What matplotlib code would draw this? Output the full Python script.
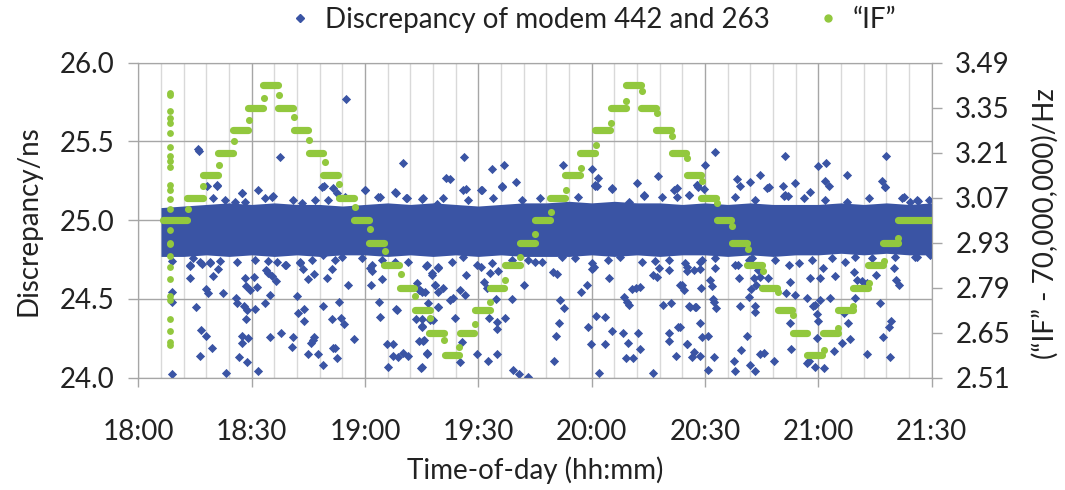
import matplotlib
matplotlib.use("Agg")
import matplotlib.pyplot as plt
from matplotlib.lines import Line2D

plt.rcParams["font.family"] = ["Lato", "DejaVu Sans"]

# Colores del gráfico original
AZUL = "#3A54A4"
VERDE = "#92C83E"
GRIS = "#A6A6A6"
GRIS_CLARO = "#D9D9D9"
TEXTO = "#222222"

# Eje x: minutos desde las 18:00
horas_ticks = [0, 30, 60, 90, 120, 150, 180, 210]
horas_etiquetas = ["18:00", "18:30", "19:00", "19:30", "20:00", "20:30", "21:00", "21:30"]
ns_ticks = [24.0, 24.5, 25.0, 25.5, 26.0]
if_ticks = [2.51, 2.65, 2.79, 2.93, 3.07, 3.21, 3.35, 3.49]

# Banda densa de la discrepancia (envolvente leída cada 6 min)
banda_min = [6, 12, 18, 24, 30, 36, 42, 48, 54, 60, 66, 72, 78, 84, 90, 96, 102,
             108, 114, 120, 126, 132, 138, 144, 150, 156, 162, 168, 174, 180,
             186, 192, 198, 204, 210]
banda_sup = [25.08, 25.09, 25.10, 25.11, 25.10, 25.11, 25.10, 25.10, 25.09, 25.10,
             25.11, 25.10, 25.11, 25.10, 25.09, 25.10, 25.11, 25.11, 25.12, 25.11,
             25.12, 25.11, 25.11, 25.10, 25.11, 25.10, 25.11, 25.10, 25.10, 25.10,
             25.11, 25.10, 25.11, 25.10, 25.11]
banda_inf = [24.77, 24.77, 24.78, 24.77, 24.78, 24.77, 24.78, 24.77, 24.78, 24.78,
             24.77, 24.78, 24.77, 24.78, 24.77, 24.78, 24.77, 24.77, 24.77, 24.78,
             24.77, 24.78, 24.77, 24.78, 24.78, 24.77, 24.78, 24.77, 24.78, 24.78,
             24.79, 24.78, 24.79, 24.78, 24.78]

# Puntos (minuto, ns) por encima de la banda
sobre_banda = [
    (15.90, 25.450), (16.07, 25.439), (20.93, 25.219), (18.10, 25.217), (27.55, 25.171),
    (31.78, 25.192), (35.75, 25.154), (37.52, 25.399), (54.91, 25.767), (49.17, 25.219),
    (51.47, 25.202), (60.12, 25.192), (63.56, 25.149), (68.15, 25.175), (70.00, 25.365),
    (70.88, 25.139), (75.21, 25.135), (79.00, 25.103),
    (86.23, 25.399), (81.38, 25.270), (82.52, 25.262), (86.67, 25.196), (90.64, 25.192),
    (93.56, 25.323), (96.91, 25.350), (96.38, 25.219), (99.91, 25.240), (112.36, 25.350),
    (120.21, 25.325), (120.92, 25.219), (121.36, 25.217), (125.33, 25.202), (121.80, 25.270),
    (131.95, 25.234), (137.51, 25.283), (133.98, 25.156), (142.54, 25.202), (145.63, 25.160),
    (147.84, 25.223),
    (152.69, 25.435), (171.22, 25.410), (197.97, 25.410), (150.04, 25.350), (179.87, 25.344),
    (181.99, 25.361), (187.55, 25.287), (158.42, 25.262), (159.31, 25.219), (161.95, 25.240),
    (164.60, 25.287), (166.81, 25.213), (170.52, 25.219), (173.87, 25.234), (181.64, 25.249),
    (182.70, 25.219), (196.82, 25.249), (197.70, 25.213), (147.83, 25.223), (148.27, 25.213),
    (170.78, 25.156), (171.93, 25.156), (177.67, 25.181), (202.56, 25.149), (204.14, 25.118),
    (206.26, 25.124),
]

# Puntos (minuto, ns) por debajo de la banda
bajo_banda = [
    (8.83, 24.741), (13.69, 24.709), (16.34, 24.732), (18.98, 24.726), (21.19, 24.690),
    (19.69, 24.646), (13.69, 24.631), (17.84, 24.561), (18.54, 24.540), (22.52, 24.540),
    (25.78, 24.504), (26.05, 24.472), (28.25, 24.631), (28.52, 24.582), (29.58, 24.557),
    (30.64, 24.641), (31.34, 24.574), (33.81, 24.684), (34.43, 24.667), (35.31, 24.646),
    (36.46, 24.614), (34.87, 24.525), (33.46, 24.472), (30.90, 24.434), (28.69, 24.430),
    (28.52, 24.371), (28.08, 24.455), (39.02, 24.716), (42.82, 24.726), (43.52, 24.690),
    (46.61, 24.658), (45.02, 24.625), (51.20, 24.690), (49.88, 24.631), (41.93, 24.519),
    (43.96, 24.434), (42.37, 24.409), (43.87, 24.362), (48.82, 24.457), (53.23, 24.479),
    (51.20, 24.371), (53.67, 24.381), (54.55, 24.341), (55.44, 24.589), (57.20, 24.244),
    (61.35, 24.694), (61.79, 24.680), (61.62, 24.589), (64.62, 24.625), (63.65, 24.479),
    (64.00, 24.387), (68.15, 24.434), (68.41, 24.430), (65.94, 24.212), (67.35, 24.212),
    (67.53, 24.138), (68.85, 24.134), (70.00, 24.159), (71.50, 24.138), (66.21, 24.066),
    (74.85, 24.059), (74.24, 24.557), (75.12, 24.546), (73.71, 24.599), (76.18, 24.709),
    (77.68, 24.667), (78.56, 24.589), (79.27, 24.546), (79.45, 24.451), (73.44, 24.371),
    (75.03, 24.328), (77.24, 24.366), (74.32, 24.235), (75.47, 24.235), (76.53, 24.150),
    (15.19, 24.451), (16.51, 24.303), (17.93, 24.267), (19.43, 24.191), (16.34, 24.138),
    (26.58, 24.134), (28.69, 24.102), (31.78, 24.045), (23.13, 24.028), (8.83, 24.021),
    (27.37, 24.267), (27.46, 24.218), (29.14, 24.250), (34.87, 24.260), (37.78, 24.282),
    (41.05, 24.260), (40.61, 24.197), (44.85, 24.150), (47.67, 24.150), (46.17, 24.239),
    (46.52, 24.256), (45.64, 24.218), (51.47, 24.191), (52.08, 24.191), (52.52, 24.123),
    (48.99, 24.081), (8.83, 24.546), (8.83, 24.483),
    (74.58, 24.557), (75.90, 24.546), (77.67, 24.652), (79.43, 24.694), (78.55, 24.589),
    (80.76, 24.567), (76.79, 24.472), (79.43, 24.451), (75.02, 24.371), (78.11, 24.366),
    (83.41, 24.504), (82.52, 24.493), (85.17, 24.557), (86.50, 24.525), (86.76, 24.652),
    (83.85, 24.377), (75.02, 24.324), (75.64, 24.239), (76.52, 24.155), (75.02, 24.070),
    (85.61, 24.229), (85.17, 24.102), (89.76, 24.150), (92.67, 24.108), (95.06, 24.150),
    (92.94, 24.377), (94.88, 24.356), (95.06, 24.307), (97.09, 24.377), (91.61, 24.610),
    (93.11, 24.663), (95.32, 24.677), (90.64, 24.705), (92.23, 24.567), (94.70, 24.498),
    (98.85, 24.498), (102.12, 24.589), (105.03, 24.737), (99.29, 24.049), (100.88, 24.023),
    (103.26, 24.002), (110.06, 24.108), (111.65, 24.493), (112.71, 24.440), (111.47, 24.345),
    (110.59, 24.265), (109.89, 24.673), (110.77, 24.658), (117.21, 24.546), (118.71, 24.589),
    (120.03, 24.690), (120.65, 24.705), (119.15, 24.324), (121.18, 24.394), (123.56, 24.387),
    (125.33, 24.296), (119.86, 24.212), (123.56, 24.214), (121.89, 24.028), (124.71, 24.635),
    (128.60, 24.514), (129.30, 24.483), (129.92, 24.462), (130.63, 24.561), (131.77, 24.567),
    (132.83, 24.578), (128.42, 24.286), (132.39, 24.282), (129.74, 24.218), (129.04, 24.123),
    (131.07, 24.123), (132.83, 24.182), (136.10, 24.032), (136.36, 24.652), (137.42, 24.641),
    (137.95, 24.694), (140.34, 24.684), (139.01, 24.462), (140.95, 24.472), (140.34, 24.282),
    (140.34, 24.235), (142.72, 24.324), (143.25, 24.324), (142.36, 24.140), (145.19, 24.212),
    (146.07, 24.451), (147.66, 24.451), (144.31, 24.557), (143.42, 24.589), (145.19, 24.677),
    (148.54, 24.688), (147.13, 24.165), (148.54, 24.138), (148.72, 24.737),
    (143.86, 24.589), (147.13, 24.684), (145.19, 24.705), (151.19, 24.620), (151.80, 24.582),
    (152.07, 24.498), (152.95, 24.440), (148.98, 24.567), (145.89, 24.457), (147.39, 24.451),
    (148.72, 24.345), (149.16, 24.260), (150.66, 24.265), (145.36, 24.214), (146.51, 24.134),
    (152.25, 24.129), (150.92, 24.049), (157.54, 24.108), (157.81, 24.045), (159.57, 24.176),
    (161.07, 24.267), (161.95, 24.081), (163.28, 24.045), (164.60, 24.150), (165.49, 24.155),
    (168.13, 24.108), (172.72, 24.180), (176.96, 24.091), (177.40, 24.108), (179.61, 24.250),
    (179.17, 24.070), (181.37, 24.059), (184.20, 24.170), (186.23, 24.218), (188.43, 24.244),
    (192.85, 24.148), (198.85, 24.134), (197.00, 24.260), (198.58, 24.324), (199.29, 24.362),
    (158.87, 24.635), (158.60, 24.716), (161.51, 24.514), (162.22, 24.563), (163.01, 24.631),
    (163.54, 24.589), (164.60, 24.641), (166.63, 24.631), (159.13, 24.457), (163.10, 24.455),
    (163.28, 24.419), (163.90, 24.684), (171.49, 24.536), (172.37, 24.610), (173.87, 24.525),
    (172.55, 24.345), (176.96, 24.504), (178.55, 24.455), (179.17, 24.462), (177.67, 24.635),
    (180.31, 24.631), (180.49, 24.493), (183.14, 24.504), (179.61, 24.402), (179.87, 24.362),
    (181.20, 24.694), (184.37, 24.646), (186.67, 24.409), (187.82, 24.345), (189.32, 24.673),
    (190.20, 24.620), (189.58, 24.504), (191.52, 24.614), (192.85, 24.603), (195.32, 24.652),
    (196.20, 24.472), (200.61, 24.620), (201.23, 24.589), (206.08, 24.769), (199.91, 24.699),
    (152.69, 24.694), (152.25, 24.479),
]

# Puntos (minuto, ns) que asoman en los bordes de la banda
borde_banda = [
    (27.54, 25.171), (35.31, 25.150), (19.87, 25.139), (22.95, 25.128), (25.60, 25.118),
    (28.25, 25.118), (33.55, 25.139), (41.05, 25.128), (43.25, 25.107), (46.79, 25.128),
    (50.31, 25.128), (52.52, 25.171), (48.55, 25.213), (54.73, 25.150), (20.75, 25.223),
    (13.69, 24.716), (16.78, 24.720), (18.98, 24.733), (21.63, 24.741), (26.04, 24.733),
    (30.90, 24.747), (34.43, 24.741), (36.64, 24.733), (38.84, 24.716), (42.81, 24.733),
    (45.90, 24.747), (48.99, 24.779), (52.08, 24.747), (53.85, 24.769), (14.57, 24.762),
    (60.02, 25.192), (67.96, 25.181), (71.05, 25.139), (75.46, 25.139), (80.76, 25.139),
    (86.05, 25.192), (87.38, 25.128), (90.91, 25.192), (96.17, 25.213), (101.50, 25.128),
    (106.35, 25.139), (63.99, 25.150), (94.00, 25.139),
    (61.78, 24.716), (64.43, 24.747), (67.96, 24.737), (71.49, 24.733), (76.35, 24.716),
    (79.44, 24.705), (82.97, 24.737), (86.05, 24.769), (89.59, 24.716), (93.56, 24.726),
    (98.85, 24.747), (103.27, 24.747), (106.80, 24.737), (59.14, 24.758),
    (120.92, 25.223), (125.33, 25.198), (133.72, 25.160), (138.57, 25.150), (141.66, 25.192),
    (142.55, 25.150), (145.64, 25.160), (149.61, 25.198), (158.00, 25.150), (116.51, 25.150),
    (129.75, 25.118),
    (112.10, 24.769), (115.63, 24.758), (120.04, 24.726), (124.45, 24.747), (127.54, 24.769),
    (133.28, 24.733), (136.81, 24.741), (140.34, 24.747), (144.75, 24.726), (149.16, 24.747),
    (152.70, 24.758), (158.00, 24.716), (161.52, 24.747),
    (166.37, 25.202), (171.22, 25.160), (181.81, 25.128), (187.55, 25.118), (193.29, 25.139),
    (197.70, 25.213), (202.11, 25.139), (206.08, 25.128), (209.17, 25.128), (163.28, 25.128),
    (176.08, 25.139),
    (162.40, 24.758), (168.57, 24.747), (172.10, 24.716), (174.75, 24.726), (178.28, 24.747),
    (183.58, 24.758), (187.11, 24.737), (189.76, 24.769), (194.17, 24.758), (200.35, 24.769),
    (205.64, 24.769), (209.61, 24.779),
]

# Escalones de "IF" (Hz sobre 70,000,000)
if_nivel = [3.00, 3.07, 3.14, 3.21, 3.28, 3.35, 3.42, 3.35, 3.28, 3.21, 3.14, 3.07,
            3.00, 2.93, 2.86, 2.79, 2.72, 2.65, 2.58, 2.65, 2.72, 2.79, 2.86, 2.93,
            3.00, 3.07, 3.14, 3.21, 3.28, 3.35, 3.42, 3.35, 3.28, 3.21, 3.14, 3.07,
            3.00, 2.93, 2.86, 2.79, 2.72, 2.65, 2.58, 2.65, 2.72, 2.79, 2.86, 2.93, 3.00]
if_inicio = [6.6, 13.0, 17.1, 21.0, 25.0, 29.0, 33.1, 37.1, 41.1, 45.1, 49.0, 53.0,
             57.2, 61.1, 65.1, 69.2, 73.2, 77.0, 81.1, 85.1, 89.1, 93.0, 97.0, 101.0,
             105.0, 108.9, 112.9, 116.9, 120.9, 125.0, 129.2, 133.1, 137.1, 141.2,
             145.1, 149.0, 153.1, 157.1, 161.0, 165.0, 169.2, 173.2, 177.1, 181.1,
             185.1, 189.1, 193.2, 197.2, 201.2]
if_fin = [12.9, 17.2, 21.1, 25.1, 29.1, 33.1, 37.0, 41.0, 45.0, 49.0, 52.9, 57.1,
          61.1, 65.0, 69.0, 73.0, 77.1, 80.8, 84.9, 88.9, 93.0, 96.9, 100.9, 104.9,
          109.0, 113.0, 117.0, 121.0, 124.9, 129.1, 133.1, 137.0, 141.0, 145.0,
          149.0, 153.0, 156.9, 161.2, 165.1, 169.1, 173.1, 177.1, 181.0, 185.2,
          189.2, 193.1, 197.1, 201.1, 210.0]

# Puntos sueltos de "IF" entre escalones
if_trans_min = [13.25, 17.2, 21.4, 25.3, 29.3, 33.3, 37.3, 41.2, 45.3, 49.3, 53.2, 57.4,
                61.35, 65.3, 69.4, 73.2, 77.1, 81.0, 85.0, 89.0, 93.1, 97.1, 101.1, 105.1,
                109.2, 113.2, 117.1, 121.2, 125.1, 129.1, 133.3, 137.3, 141.2, 145.2,
                149.2, 153.1, 157.1, 161.3, 165.3, 169.3, 173.4, 181.4, 185.1, 189.1,
                193.3, 197.3, 201.2]
if_trans_hz = [3.035, 3.106, 3.173, 3.245, 3.312, 3.381, 3.391, 3.320, 3.249, 3.182,
               3.113, 3.042, 2.973, 2.903, 2.833, 2.765, 2.695, 2.627, 2.607, 2.676,
               2.745, 2.814, 2.884, 2.956, 3.024, 3.094, 3.163, 3.233, 3.303, 3.372,
               3.403, 3.333, 3.263, 3.193, 3.123, 3.052, 2.983, 2.910, 2.843, 2.776,
               2.705, 2.596, 2.666, 2.733, 2.804, 2.873, 2.944]

# Transitorio inicial de "IF" (cerca de las 18:08)
if_arranque_min = [8.3, 8.4, 8.3, 8.4, 8.3, 8.4, 8.5, 8.3, 8.4, 8.3, 8.4, 8.3, 8.4,
                   8.5, 8.3, 8.4, 8.5, 8.4, 8.3, 8.4, 8.3, 8.4, 8.3, 8.4, 8.4, 8.3]
if_arranque_hz = [3.395, 3.390, 3.341, 3.318, 3.302, 3.271, 3.229, 3.200, 3.183, 3.166,
                  3.111, 3.093, 3.066, 3.035, 2.971, 2.930, 2.925, 2.888, 2.855, 2.818,
                  2.764, 2.752, 2.694, 2.654, 2.622, 2.611]


fig = plt.figure(figsize=(10.65, 4.9), dpi=100)
ax = fig.add_axes([0.12986, 0.22918, 0.74498, 0.64286])

# Discrepancia: banda densa y puntos sueltos
ax.fill_between(banda_min, banda_inf, banda_sup, color=AZUL, lw=0, zorder=2)
for puntos in (sobre_banda, bajo_banda, borde_banda):
    t, v = zip(*puntos)
    ax.scatter(t, v, marker="D", s=22, color=AZUL, linewidths=0, zorder=3)

ax.set_xlim(0, 210)
ax.set_ylim(24.0, 26.0)
ax.set_xticks(horas_ticks)
ax.set_xticklabels(horas_etiquetas)
ax.set_xticks(range(0, 211, 6), minor=True)
ax.set_yticks(ns_ticks)
ax.set_yticklabels([f"{v:.1f}" for v in ns_ticks])
ax.set_axisbelow(True)
ax.grid(which="minor", axis="x", color=GRIS_CLARO, lw=1)
ax.grid(which="major", color=GRIS, lw=1)
ax.tick_params(which="minor", length=0)
ax.tick_params(axis="y", which="major", length=7, width=1, color=GRIS, pad=10,
               labelsize=20, labelcolor=TEXTO)
ax.tick_params(axis="x", which="major", length=6.5, width=1, color=GRIS, pad=23,
               labelsize=20, labelcolor=TEXTO)
for s in ax.spines.values():
    s.set_color(GRIS)

ax.set_xlabel("Time-of-day (hh:mm)", fontsize=20, color=TEXTO, va="center")
ax.xaxis.set_label_coords(0.5, -0.293)
ax.set_ylabel("Discrepancy/ns", fontsize=20, color=TEXTO, va="center")
ax.yaxis.set_label_coords(-0.139, 0.5)

# "IF" en el eje derecho
ax2 = ax.twinx()
ax2.hlines(if_nivel, if_inicio, if_fin, colors=VERDE, lw=5.2, capstyle="round", zorder=4)
ax2.scatter(if_trans_min, if_trans_hz, s=26, color=VERDE, linewidths=0, zorder=4)
ax2.scatter(if_arranque_min, if_arranque_hz, s=24, color=VERDE, linewidths=0, zorder=4)
ax2.set_ylim(2.51, 3.49)
ax2.set_yticks(if_ticks)
ax2.set_yticklabels([f"{v:.2f}" for v in if_ticks])
ax2.tick_params(axis="y", length=7, width=1, color=GRIS, pad=10, labelsize=20,
                labelcolor=TEXTO)
for s in ax2.spines.values():
    s.set_color(GRIS)
ax2.set_ylabel("(\u201cIF\u201d - 70,000,000)/Hz", fontsize=20, color=TEXTO, va="center")
ax2.yaxis.set_label_coords(1.143, 0.49)

# Leyenda arriba
marcas = [
    Line2D([], [], marker="D", ls="", color=AZUL, ms=4),
    Line2D([], [], marker="o", ls="", color=VERDE, ms=5),
]
fig.legend(marcas, ["Discrepancy of modem 442 and 263", "\u201cIF\u201d"],
           loc="center", bbox_to_anchor=(0.555, 0.959), ncol=2, frameon=False,
           fontsize=20, handlelength=1.0, handletextpad=0.4, columnspacing=1.6,
           labelcolor=TEXTO)

fig.savefig("out.png", dpi=100)
